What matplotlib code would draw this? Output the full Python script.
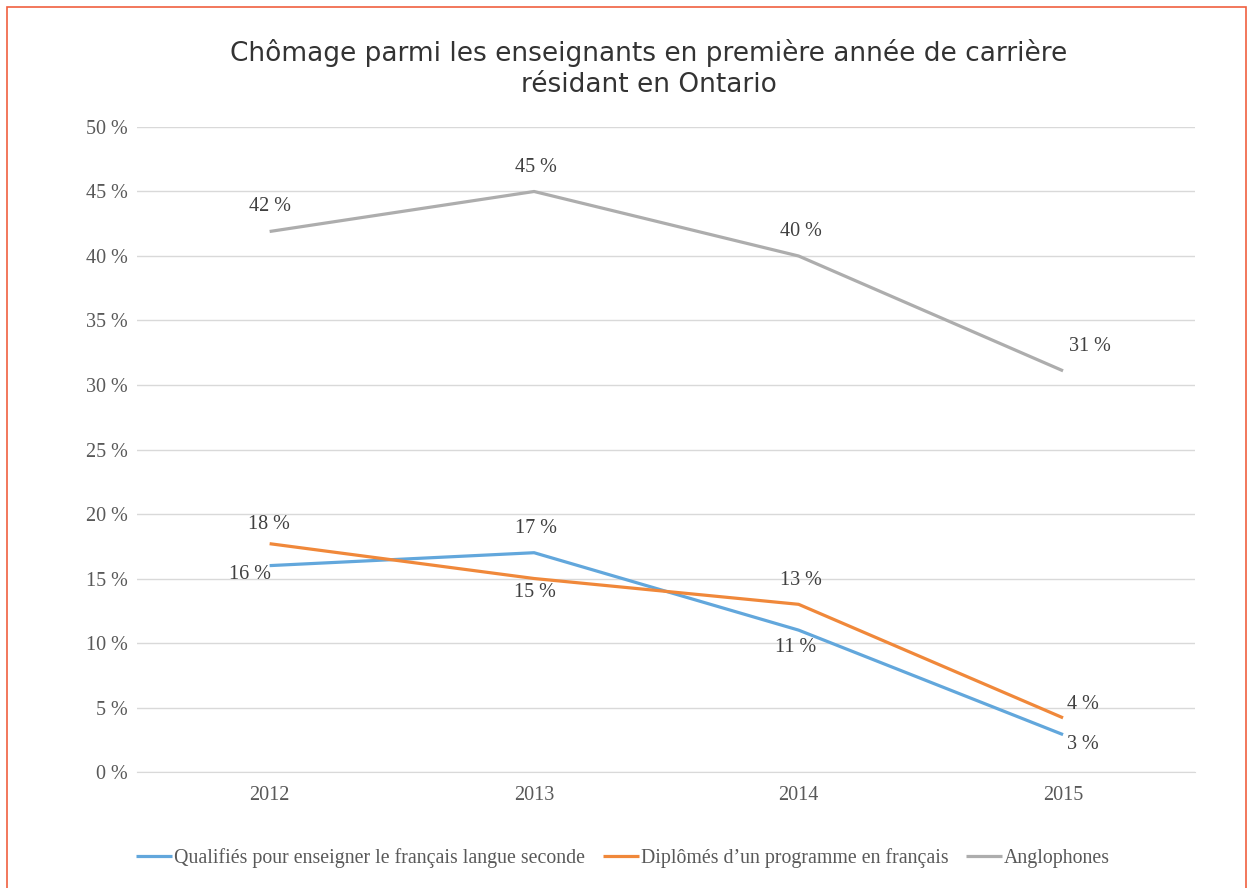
import matplotlib.pyplot as plt
import matplotlib.patches as patches
import numpy as np

# Données
annees = ['2012', '2013', '2014', '2015']
qualifies_fls = [16.0, 17.0, 11.0, 2.9]
diplomes_fr = [17.7, 15.0, 13.0, 4.2]
anglophones = [41.9, 45.0, 40.0, 31.1]

etiq_qualifies = ['16 %', '17 %', '11 %', '3 %']
etiq_diplomes = ['18 %', '15 %', '13 %', '4 %']
etiq_anglo = ['42 %', '45 %', '40 %', '31 %']

noms = ['Qualifiés pour enseigner le français langue seconde',
        'Diplômés d\u2019un programme en français',
        'Anglophones']
couleurs = ['#62A7DC', '#F0883A', '#ADADAD']

serif = 'Liberation Serif'

fig = plt.figure(figsize=(12.49, 8.88), dpi=100)
ax = fig.add_axes([0.11, 0.1306, 0.847, 0.7264])

x = np.arange(len(annees))
series = [qualifies_fls, diplomes_fr, anglophones]
for vals, nom, c in zip(series, noms, couleurs):
    ax.plot(x, vals, color=c, linewidth=2.3, label=nom, solid_capstyle='butt')

# Etiquettes de données (décalages en pixels)
decal_qualifies = [(-20, -9), (2, 24), (-3, -17), (20, -10)]
decal_diplomes = [(-1, 19), (1, -14), (2, 24), (20, 13)]
decal_anglo = [(0, 25), (2, 24), (2, 24), (27, 24)]

for vals, etiqs, decs in [(qualifies_fls, etiq_qualifies, decal_qualifies),
                          (diplomes_fr, etiq_diplomes, decal_diplomes),
                          (anglophones, etiq_anglo, decal_anglo)]:
    for i, (v, t, d) in enumerate(zip(vals, etiqs, decs)):
        ax.annotate(t, (x[i], v), xytext=d, textcoords='offset pixels',
                    ha='center', va='center', fontsize=14.5,
                    family=serif, color='#404040')

ax.set_xlim(-0.5, 3.5)
ax.set_ylim(0, 50)
ax.set_yticks(np.arange(0, 51, 5))
ax.set_yticklabels([f'{v} %' for v in range(0, 51, 5)])
ax.set_xticks(x)
ax.set_xticklabels(annees)
for lab in ax.get_xticklabels() + ax.get_yticklabels():
    lab.set_family(serif)
    lab.set_fontsize(14.5)
    lab.set_color('#595959')
ax.tick_params(axis='both', length=0)
ax.tick_params(axis='y', pad=7)
ax.tick_params(axis='x', pad=10)
ax.grid(True, axis='y', color='#D9D9D9', linewidth=1)
ax.set_axisbelow(True)
for s in ['top', 'right', 'left']:
    ax.spines[s].set_visible(False)
ax.spines['bottom'].set_color('#D9D9D9')

fig.text(649 / 1249, 0.923, 'Chômage parmi les enseignants en première année de carrière\nrésidant en Ontario',
         ha='center', va='center', fontsize=19, color='#333333',
         family='DejaVu Sans', linespacing=1.25)

fig.legend(loc='center', bbox_to_anchor=(623 / 1249, 0.034), ncol=3, frameon=False,
           prop={'family': serif, 'size': 14.3}, handlelength=1.8,
           handletextpad=0.1, columnspacing=0.9, labelcolor='#595959')

# Cadre
cadre = patches.Rectangle((7 / 1249, -0.05), 1239 / 1249, 1 - 7 / 888 + 0.05,
                          transform=fig.transFigure, fill=False,
                          edgecolor='#F06040', linewidth=1.2)
fig.add_artist(cadre)

plt.savefig('out.png', dpi=100)
